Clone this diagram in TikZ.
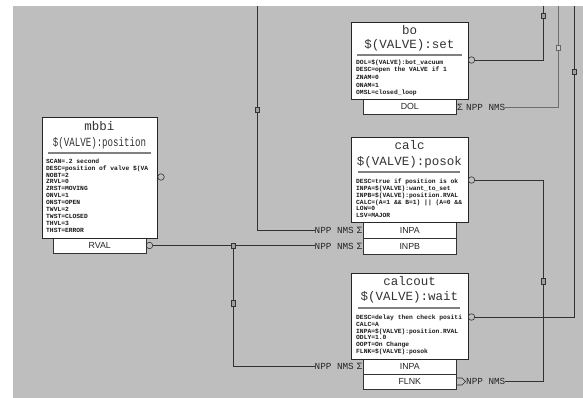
\documentclass[tikz,border=0pt]{standalone}
\usepackage{fontspec}
\setmonofont{Liberation Mono}
\setsansfont{Liberation Sans}
\definecolor{bggray}{RGB}{190,190,190}
\definecolor{wirec}{RGB}{50,50,50}
\definecolor{wirelt}{RGB}{110,110,110}
\begin{document}
\begin{tikzpicture}[x=1pt,y=-1pt,
  recbox/.style={draw=black!85, fill=white, line width=0.8pt, inner sep=0pt, anchor=north west},
  fieldbox/.style={draw=black!80, fill=white, line width=0.6pt, inner sep=0pt, anchor=north west,
     font=\fontsize{8.8}{8.8}\sffamily, text=black!85},
  rectitle/.style={inner sep=0pt, font=\fontsize{12.5}{12.5}\ttfamily, text=black!80},
  fields/.style={inner sep=0pt, anchor=north west, align=left,
     font=\fontsize{6.3}{6.9}\ttfamily\bfseries, text=black!90},
  sepline/.style={draw=black!50, line width=1.6pt},
  outcirc/.style={circle, draw=black!80, line width=0.6pt, minimum size=6.5pt, inner sep=0pt},
  wire/.style={draw=wirec, line width=0.8pt},
  wirelight/.style={draw=wirelt, line width=0.8pt},
  marker/.style={draw=black!80, fill=gray!75, line width=0.5pt, minimum width=4pt, minimum height=5.5pt, inner sep=0pt},
  npp/.style={inner sep=0pt, font=\fontsize{9.3}{9.3}\ttfamily, text=black!85},
  sig/.style={inner sep=0pt, font=\fontsize{9.5}{9.5}\ttfamily, text=black!85},
  outsym/.style={draw=black!85, line width=0.6pt}
]
\useasboundingbox (0,0) rectangle (583,398);
\fill[white] (0,0) rectangle (583,398);
\fill[bggray] (13,6) rectangle (583,398);

% ---------- mbbi ----------
\node[fieldbox, minimum width=93pt, minimum height=15pt] (mbbiRVAL) at (53,238) {RVAL};
\node[recbox, minimum width=115pt, minimum height=121pt] (mbbi) at (42,117) {};
\node[rectitle] (mbbiT) at (99.5,126) {mbbi};
\node[rectitle] (mbbiN) at (99.5,143) {\scalebox{0.73}[1]{\$(VALVE):position}};
\draw[sepline] (48,153) -- (151,153);
\node[fields] (mbbiF) at (46,158.5) {SCAN=.2 second\\DESC=position of valve \$(VA\\NOBT=2\\ZRVL=0\\ZRST=MOVING\\ONVL=1\\ONST=OPEN\\TWVL=2\\TWST=CLOSED\\THVL=3\\THST=ERROR};
\node[outcirc] (mbbiOut) at (161,177) {};
\node[outcirc] (mbbiRvalOut) at (149.5,245.5) {};

% ---------- bo ----------
\node[fieldbox, minimum width=93pt, minimum height=15pt] (boDOL) at (363,99) {DOL};
\node[recbox, minimum width=117pt, minimum height=77pt] (bo) at (351,22) {};
\node[rectitle] (boT) at (409.5,30) {bo};
\node[rectitle] (boN) at (409.5,45) {\$(VALVE):set};
\draw[sepline] (357,55) -- (462,55);
\node[fields, font=\fontsize{6.3}{7.6}\ttfamily\bfseries] (boF) at (356,59.5) {DOL=\$(VALVE):bot\_vacuum\\DESC=open the VALVE if 1\\ZNAM=0\\ONAM=1\\OMSL=closed\_loop};
\node[outcirc] (boOut) at (471.5,60) {};
\node[sig] (boDolSig) at (460,107) {Σ};
\node[npp, anchor=west] (boDolLbl) at (466,107) {NPP NMS};

% ---------- calc ----------
\node[fieldbox, minimum width=93pt, minimum height=16pt] (calcINPA) at (363,222) {INPA};
\node[fieldbox, minimum width=93pt, minimum height=16pt] (calcINPB) at (363,238) {INPB};
\node[recbox, minimum width=117pt, minimum height=85pt] (calc) at (351,137) {};
\node[rectitle] (calcT) at (409.5,145) {calc};
\node[rectitle] (calcN) at (409.5,162) {\$(VALVE):posok};
\draw[sepline] (358,172) -- (460,172);
\node[fields] (calcF) at (356,178.5) {DESC=true if position is ok\\INPA=\$(VALVE):want\_to\_set\\INPB=\$(VALVE):position.RVAL\\CALC=(A=1 \&\& B=1) || (A=0 \&\&\\LOW=0\\LSV=MAJOR};
\node[outcirc] (calcOut) at (471.5,180) {};
\node[sig] (calcInpaSig) at (359.5,230) {Σ};
\node[npp, anchor=east] (calcInpaLbl) at (354,230) {NPP NMS};
\node[sig] (calcInpbSig) at (359.5,246) {Σ};
\node[npp, anchor=east] (calcInpbLbl) at (354,246) {NPP NMS};

% ---------- calcout ----------
\node[fieldbox, minimum width=93pt, minimum height=15pt] (coINPA) at (363,359) {INPA};
\node[fieldbox, minimum width=93pt, minimum height=15pt] (coFLNK) at (363,374) {FLNK};
\node[recbox, minimum width=117pt, minimum height=86pt] (calcout) at (351,273) {};
\node[rectitle] (coT) at (409.5,281) {calcout};
\node[rectitle] (coN) at (409.5,297) {\$(VALVE):wait};
\draw[sepline] (358,308) -- (460,308);
\node[fields] (coF) at (356,314.5) {DESC=delay then check positi\\CALC=A\\INPA=\$(VALVE):position.RVAL\\ODLY=1.0\\OOPT=On Change\\FLNK=\$(VALVE):posok};
\node[outcirc] (coOut) at (471.5,317) {};
\node[sig] (coInpaSig) at (359.5,366.5) {Σ};
\node[npp, anchor=east] (coInpaLbl) at (354,366.5) {NPP NMS};
\draw[outsym] (457,378) -- (462,378) -- (465.5,381.5) -- (462,385) -- (457,385);
\node[npp, anchor=west] (coFlnkLbl) at (466,381.5) {NPP NMS};

% ---------- wires ----------
\coordinate (topA) at (543,6);
\coordinate (topB) at (558,6);
\coordinate (topC) at (574,6);
\coordinate (topE) at (257,6);
\coordinate (dA) at (543,180);
\coordinate (dB) at (543,381.5);
\coordinate (jF) at (233,245.5);

\draw[wire] (boOut.east) -| (topA);
\draw[wirelight] (boDolLbl.east) -| (topB);
\draw[wire] (coOut.east) -| (topC);
\draw[wire] (calcOut.east) -- (dA) -- (dB) -- (coFlnkLbl.east);
\draw[wire] (topE) |- (calcInpaLbl.west);
\draw[wire] (mbbiRvalOut.east) -- (mbbiRvalOut.east -| calcInpbLbl.west);
\draw[wire] (jF) |- (coInpaLbl.west);

% markers
\node[marker] (mA) at (543,16) {};
\node[marker, fill=gray!40, draw=black!60] (mB) at (558,48) {};
\node[marker] (mC) at (574,72) {};
\node[marker] (mD) at (543,281) {};
\node[marker] (mE) at (257,110) {};
\node[marker] (mF) at (233,245.5) {};
\node[marker] (mG) at (233,303) {};
\end{tikzpicture}
\end{document}
